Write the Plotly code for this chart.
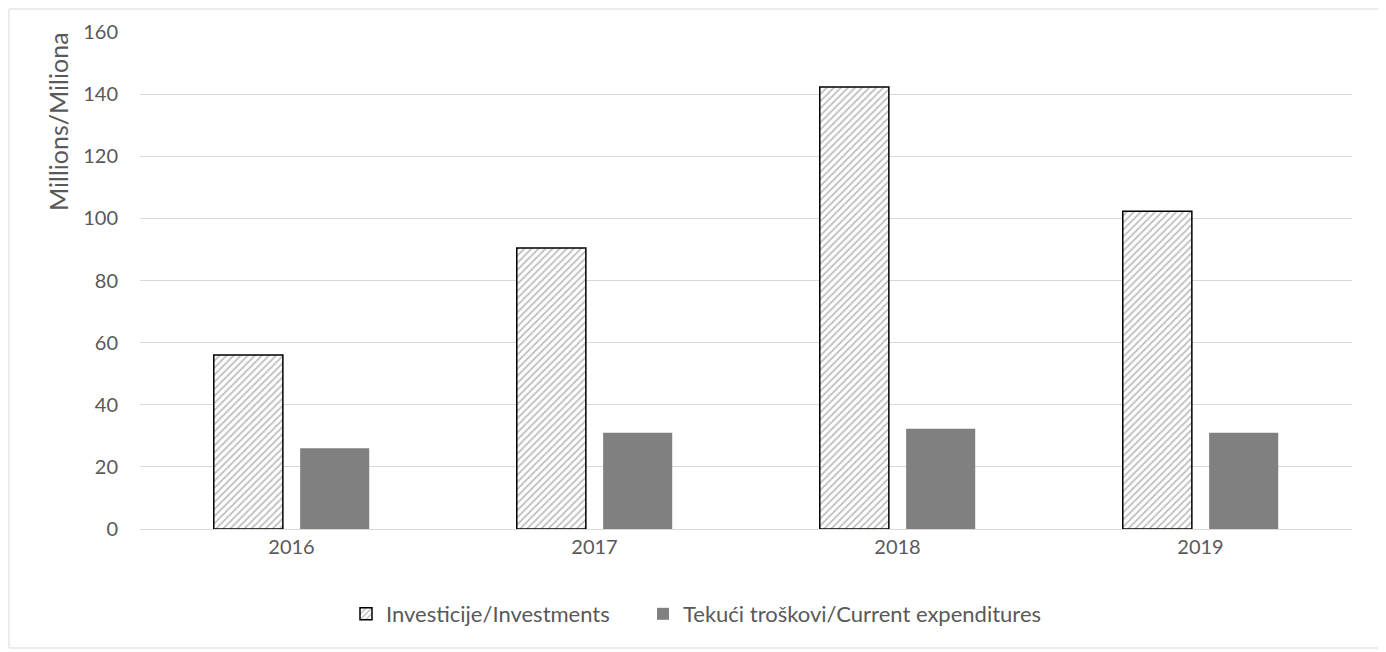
import plotly.graph_objects as go

years = ["2016", "2017", "2018", "2019"]
investments = [56, 90.5, 142.3, 102.3]
current_exp = [26, 31, 32.3, 31]
series_names = ["Investicije/Investments", "Tekući troškovi/Current expenditures"]
y_ticks = [0, 20, 40, 60, 80, 100, 120, 140, 160]

FONT = "Lato, Open Sans, sans-serif"
TXT = "#595959"

fig = go.Figure()
fig.add_trace(go.Bar(
    x=years, y=investments, name=series_names[0], legend="legend",
    marker=dict(color="white", line=dict(color="black", width=1.5),
                pattern=dict(shape="/", fgcolor="#808080", bgcolor="white", size=5, solidity=0.35)),
))
fig.add_trace(go.Bar(
    x=years, y=current_exp, name=series_names[1], legend="legend2",
    marker=dict(color="#808080", line=dict(width=0)),
))

OFF = 8  # page body margin
W, H = 1386 - OFF, 652 - OFF
L, T = 140 - OFF, 32 - OFF
R, B = W - (1352 - OFF), 123
pw, ph = W - L - R, H - T - B

def px_x(p):
    return (p - OFF - L) / pw

def px_y(p):
    return (H - B - (p - OFF)) / ph

leg_common = dict(orientation="h", yanchor="middle", xanchor="left",
                  font=dict(size=22, color=TXT), itemwidth=30, bgcolor="rgba(0,0,0,0)")

fig.update_layout(
    width=W, height=H,
    margin=dict(l=L, r=R, t=T, b=B),
    paper_bgcolor="white", plot_bgcolor="white",
    barmode="group", bargap=0.43, bargroupgap=0.2,
    font=dict(family=FONT, size=20, color=TXT),
    showlegend=True,
    legend=dict(x=px_x(346), y=px_y(614), **leg_common),
    legend2=dict(x=px_x(643), y=px_y(614), **leg_common),
    xaxis=dict(showgrid=False, showline=True, linecolor="#d9d9d9", linewidth=1, ticks="",
               tickfont=dict(size=20, color=TXT)),
    yaxis=dict(range=[0, 160], tickvals=y_ticks, showgrid=True, gridcolor="#d9d9d9", gridwidth=1,
               zeroline=False, showline=False, ticks="", ticklabelstandoff=21,
               tickfont=dict(size=20, color=TXT)),
    annotations=[dict(text="Millions/Miliona", textangle=-90, xref="paper", yref="paper",
                      x=px_x(58), y=px_y(122), xanchor="center", yanchor="middle",
                      showarrow=False, font=dict(size=25, color=TXT, family=FONT))],
    shapes=[dict(type="rect", xref="paper", yref="paper",
                 x0=px_x(9), x1=px_x(1381), y0=px_y(648), y1=px_y(9),
                 line=dict(color="#d9d9d9", width=1), fillcolor="rgba(0,0,0,0)", layer="below")],
)

fig.write_html("out.html")
